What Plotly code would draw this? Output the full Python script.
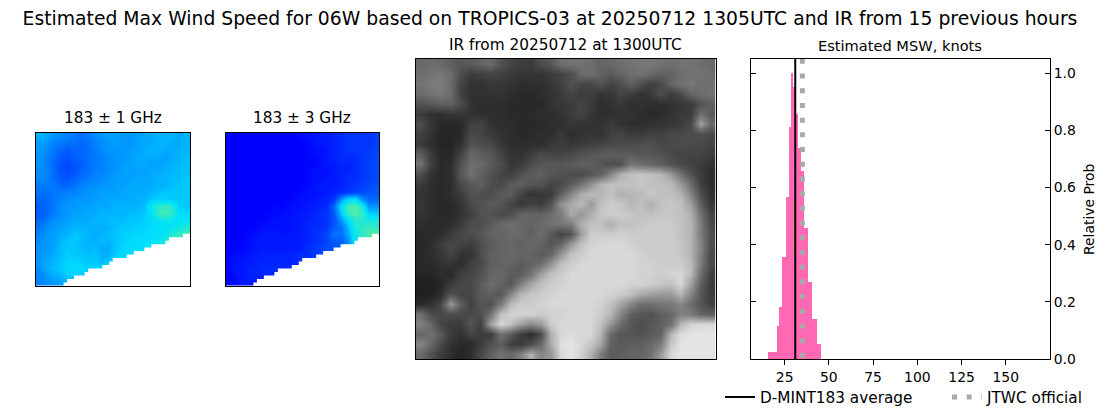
import plotly.graph_objects as go

FONT = "DejaVu Sans"
W, H = 1100, 409

main_title = "Estimated Max Wind Speed for 06W based on TROPICS-03 at 20250712 1305UTC and IR from 15 previous hours"
panel_titles = ["183 ± 1 GHz", "183 ± 3 GHz", "IR from 20250712 at 1300UTC", "Estimated MSW, knots"]

# brightness temps scaled x100 for the jet colormap on a coarse grid
mw_1ghz = [
    [31,30,28,27,26,25,24,25,27,28,29,29,28,28,29,30,30,31,31,31,30,31],
    [29,28,26,25,24,24,23,24,26,27,28,29,28,28,29,30,30,31,31,30,30,31],
    [28,27,25,23,22,23,23,24,25,27,28,28,28,29,29,30,31,31,30,30,31,31],
    [28,26,24,22,21,22,23,24,25,26,27,28,28,29,30,30,30,30,29,30,31,32],
    [28,26,23,21,20,21,22,24,25,26,27,28,29,29,30,30,29,29,30,31,32,32],
    [27,26,24,21,20,21,23,24,26,26,27,28,29,29,29,29,30,30,31,31,32,32],
    [27,26,24,22,21,23,24,25,26,27,28,29,29,29,30,30,30,31,31,32,32,33],
    [25,25,25,23,23,24,26,27,27,28,28,29,29,30,30,30,30,31,31,32,33,33],
    [24,24,25,25,26,26,27,28,28,29,29,29,30,30,30,30,31,32,33,33,33,33],
    [23,23,25,26,27,28,28,28,29,29,30,30,30,30,31,31,33,34,34,33,33,33],
    [22,23,25,27,28,28,29,29,30,30,30,31,31,31,31,32,38,42,44,41,34,33],
    [22,23,25,27,28,29,29,30,30,31,31,31,31,32,32,33,37,43,45,42,36,35],
    [23,25,27,28,29,30,30,30,31,31,32,32,32,33,33,34,35,38,39,38,37,37],
    [25,27,28,29,30,31,31,31,31,30,31,32,33,33,34,34,35,36,37,38,39,41],
    [26,28,29,30,31,33,32,31,30,31,32,33,34,34,35,35,36,37,38,41,43,45],
    [27,28,29,31,33,33,32,31,31,32,31,33,34,35,35,36,37,38,40,42,44,46],
    [28,28,29,32,33,33,32,31,32,30,30,33,35,35,36,37,38,40,42,44,46,46],
    [28,29,30,32,34,33,33,32,33,30,31,34,35,36,37,38,41,43,44,44,44,44],
    [28,30,31,33,34,35,34,33,33,32,33,35,36,38,39,41,43,44,44,44,44,44],
    [27,30,32,33,35,35,35,34,35,35,36,37,38,38,38,38,38,38,38,38,38,38],
    [26,28,30,31,33,34,33,33,33,33,33,33,33,33,33,33,33,33,33,33,33,33],
    [26,27,28,29,30,30,30,30,30,30,30,30,30,30,30,30,30,30,30,30,30,30],
]
mw_3ghz = [
    [13,12,11,11,11,11,11,11,11,12,13,14,14,15,15,16,17,18,18,18,18,19],
    [12,11,11,11,11,11,11,11,11,11,12,13,14,15,15,16,17,18,18,18,18,19],
    [12,11,11,11,11,11,11,11,11,11,12,13,14,14,15,16,17,18,18,18,19,19],
    [11,11,11,11,11,11,11,11,11,11,12,13,13,14,15,16,17,17,17,18,19,20],
    [11,11,11,11,11,11,11,11,11,11,12,13,13,14,15,15,16,16,17,18,19,20],
    [11,11,11,11,11,11,11,11,11,11,12,13,14,14,14,15,16,16,17,18,19,20],
    [11,11,11,11,11,11,11,11,11,11,12,13,14,14,15,15,16,17,17,18,19,20],
    [11,11,11,11,11,11,11,11,11,12,13,13,14,15,15,15,16,17,18,19,20,21],
    [11,11,11,11,11,11,11,11,12,13,13,14,14,15,15,16,17,18,19,20,21,22],
    [11,11,11,11,11,12,12,12,13,13,14,14,15,15,16,18,28,35,37,27,23,23],
    [11,11,11,11,12,12,13,13,13,14,14,15,15,16,17,24,36,45,46,40,27,28],
    [11,11,11,12,12,13,13,13,14,14,15,15,16,17,18,22,33,44,46,44,34,33],
    [11,11,12,12,13,13,14,14,14,15,15,16,16,17,18,21,28,36,42,41,40,40],
    [11,11,12,13,13,14,14,14,14,14,15,16,17,17,18,22,24,32,41,42,44,42],
    [12,12,13,13,14,15,15,15,14,15,15,16,17,18,20,25,24,30,39,42,46,47],
    [12,13,13,14,15,15,15,15,15,15,15,16,17,18,20,22,22,27,38,44,46,49],
    [12,13,13,14,15,15,15,15,15,15,15,17,18,19,20,21,22,28,37,43,46,48],
    [13,14,14,15,15,16,16,16,16,16,17,17,18,19,21,23,28,38,43,44,44,44],
    [13,14,15,15,16,16,16,16,16,16,17,18,20,22,25,32,38,42,44,44,44,44],
    [13,15,15,16,16,17,17,17,17,18,18,19,21,24,28,30,30,30,30,30,30,30],
    [12,14,15,16,16,16,16,16,16,16,16,16,16,16,16,16,16,16,16,16,16,16],
    [13,14,15,15,15,15,15,15,15,15,15,15,15,15,15,15,15,15,15,15,15,15],
]
# stair edge of the swath, in microwave pixels (44 x 44)
swath_edge_x = [8,9,11,13,14,15,17,19,21,22,24,26,28,30,31,33,35,37,38,40,42,44]
swath_edge_y = [43,42,41,41,40,39,39,38,37,36,36,35,34,34,33,32,32,31,30,30,29,29]

ir_gray = [
    [120,125,120,110,100,105,115,120,95,80,75,70,90,100,125,130,130,125,115,120,125,130,135,135,130,125,130,130,125,120],
    [125,130,135,125,90,70,75,80,75,70,60,65,60,70,80,90,120,125,115,105,115,125,130,120,110,115,125,130,130,125],
    [130,140,140,120,80,60,60,65,65,60,55,55,55,65,75,95,85,80,95,80,90,110,90,75,85,115,130,135,125,130],
    [120,130,135,125,75,58,60,60,60,55,50,50,55,60,70,80,70,75,60,65,80,70,60,70,90,70,85,115,125,130],
    [95,100,110,110,90,60,55,55,55,50,50,50,50,60,65,70,80,70,55,60,65,55,60,55,55,60,65,70,95,110],
    [70,60,55,65,65,60,55,55,55,50,50,50,55,55,60,70,80,65,55,55,60,60,55,50,55,60,70,70,130,105],
    [90,65,50,45,50,75,80,60,55,55,50,50,50,55,55,65,60,60,60,70,60,55,55,60,60,65,70,85,175,120],
    [75,60,45,45,50,85,80,70,60,55,50,50,55,55,70,55,60,65,60,75,80,70,70,75,75,85,85,90,90,85],
    [70,55,45,45,60,95,90,85,65,55,55,55,55,65,70,65,70,75,80,85,85,90,90,95,85,85,90,85,85,80],
    [110,70,50,50,80,120,110,100,80,60,60,70,85,80,80,85,95,100,105,110,105,105,100,100,95,85,80,80,80,70],
    [130,75,50,55,95,125,120,105,90,65,70,90,100,100,100,105,110,110,100,90,95,135,125,120,110,95,85,75,70,60],
    [90,60,50,55,100,130,110,95,80,75,95,105,110,100,95,90,85,100,110,150,190,205,210,205,195,170,130,95,70,55],
    [70,55,50,55,85,100,110,90,85,105,110,100,95,80,85,105,130,160,195,205,205,205,210,205,205,200,170,125,75,55],
    [60,55,50,55,70,95,90,90,105,105,80,60,65,70,110,150,185,200,195,205,190,195,200,210,205,205,195,150,90,60],
    [65,55,50,50,60,85,95,105,100,80,65,80,70,95,160,185,200,170,205,215,210,195,205,190,205,210,205,175,110,65],
    [60,55,50,50,60,75,95,95,85,90,115,115,115,125,140,185,165,190,210,215,215,210,205,205,210,210,205,190,130,80],
    [55,50,50,55,70,90,90,105,120,125,120,115,120,130,135,140,190,205,205,190,205,205,210,215,215,215,205,195,140,85],
    [50,50,55,70,85,90,100,115,115,120,120,110,125,100,80,95,170,215,215,215,220,215,215,215,215,215,205,195,140,90],
    [50,55,70,85,80,70,90,105,115,120,110,120,115,100,115,170,205,220,225,225,225,220,215,215,215,215,210,195,150,90],
    [50,55,65,80,60,60,90,110,115,120,115,115,105,115,165,205,215,225,225,225,225,225,220,215,215,215,210,195,145,85],
    [50,50,60,60,55,75,85,110,115,115,105,115,125,165,205,215,225,225,225,225,225,225,220,220,215,215,215,200,140,85],
    [45,45,55,50,75,80,95,115,120,105,105,130,175,205,215,225,225,225,225,225,225,225,220,220,215,220,225,200,125,75],
    [40,40,45,70,85,85,105,125,115,100,145,180,205,215,220,225,225,225,225,225,225,220,220,215,210,205,225,175,110,70],
    [40,40,55,95,80,80,105,110,100,150,195,210,215,220,225,225,225,225,225,220,215,205,185,175,170,170,195,150,100,70],
    [50,60,80,170,110,75,100,95,140,200,215,215,220,225,225,225,225,225,220,205,180,150,125,125,135,135,150,125,100,75],
    [130,90,85,90,85,85,90,130,205,220,220,220,215,220,220,225,225,225,215,195,150,110,100,95,110,120,145,140,115,110],
    [145,120,80,70,70,100,75,180,225,205,175,155,170,215,225,225,225,225,205,165,125,100,90,100,110,125,195,220,225,225],
    [115,130,105,70,60,80,70,70,130,105,70,55,85,190,225,230,225,225,195,120,100,100,95,105,115,195,230,235,235,235],
    [150,120,85,60,50,50,70,95,110,75,70,90,120,185,230,235,225,210,180,110,105,110,110,120,140,210,235,235,235,235],
    [120,95,70,55,45,55,85,110,130,120,145,190,150,165,225,235,220,190,140,105,110,115,115,130,170,225,235,235,235,235],
]

# histogram of estimated MSW
bin_edges = [15.4,20.5,21.6,23.3,25.2,27.3,28.4,29.7,30.7,32,34,35.8,38,40.3,43.1,45.4]
bin_probs = [0.025,0.117,0.183,0.357,0.567,0.812,1.0,0.953,0.858,0.74,0.658,0.458,0.27,0.14,0.054]
dmint_avg = 31
jtwc_official = 35

x_ticks = [25,50,75,100,125,150]
y_ticks = [0,0.2,0.4,0.6,0.8,1.0]

jet = [[0,"#00007f"],[0.11,"#0000ff"],[0.125,"#0000ff"],[0.35,"#00dbff"],[0.375,"#00e4f7"],
       [0.64,"#f7ff00"],[0.66,"#ffea00"],[0.89,"#ff1300"],[1,"#7f0000"]]


def dom_x(a, b):
    return [a / W, b / W]


def dom_y(top, bottom):
    return [1 - bottom / H, 1 - top / H]


def image_axis(dom, rng, anchor):
    return dict(domain=dom, range=rng, anchor=anchor, showticklabels=False, ticks="", showgrid=False, zeroline=False,
                showline=True, mirror=True, linecolor="black", linewidth=1)


fig = go.Figure()

for n, grid in enumerate([mw_1ghz, mw_3ghz]):
    ax = "" if n == 0 else str(n + 1)
    fig.add_trace(go.Heatmap(z=[[v / 100 for v in row] for row in grid], x0=1, dx=2, y0=1, dy=2,
                             colorscale=jet, zmin=0, zmax=1, showscale=False, zsmooth="best",
                             xaxis="x" + ax, yaxis="y" + ax))
    fig.add_trace(go.Scatter(x=swath_edge_x + [44, swath_edge_x[0]], y=swath_edge_y + [44, 44],
                             mode="lines", line=dict(width=0, shape="hv", color="white"),
                             fill="toself", fillcolor="white", showlegend=False, hoverinfo="skip",
                             xaxis="x" + ax, yaxis="y" + ax))

fig.add_trace(go.Heatmap(z=ir_gray, x0=0.5, dx=1, y0=0.5, dy=1, colorscale="gray", zmin=0, zmax=255,
                         showscale=False, zsmooth="best", xaxis="x3", yaxis="y3"))

fig.add_trace(go.Bar(x=[(a + b) / 2 for a, b in zip(bin_edges[:-1], bin_edges[1:])], y=bin_probs,
                     width=[b - a for a, b in zip(bin_edges[:-1], bin_edges[1:])],
                     marker=dict(color="hotpink", line=dict(width=0)), showlegend=False,
                     xaxis="x4", yaxis="y4"))
fig.add_trace(go.Scatter(x=[dmint_avg, dmint_avg], y=[0, 1.05], mode="lines", name="D-MINT183 average",
                         line=dict(color="black", width=2), xaxis="x4", yaxis="y4"))
fig.add_trace(go.Scatter(x=[jtwc_official, jtwc_official], y=[0.004, 1.05], mode="lines", name="JTWC official",
                         line=dict(color="darkgray", width=5, dash="5px,9.7px"), xaxis="x4", yaxis="y4"))

fig.update_layout(
    width=W, height=H, margin=dict(l=0, r=0, t=0, b=0, autoexpand=False), paper_bgcolor="white", plot_bgcolor="white",
    font=dict(family=FONT, color="black", size=14),
    xaxis=image_axis(dom_x(35.5, 190), [0, 44], "y"),
    yaxis=image_axis(dom_y(132.5, 286), [44, 0], "x"),
    xaxis2=image_axis(dom_x(225.5, 379), [0, 44], "y2"),
    yaxis2=image_axis(dom_y(132.5, 286), [44, 0], "x2"),
    xaxis3=image_axis(dom_x(415.5, 715.5), [0, 30], "y3"),
    yaxis3=image_axis(dom_y(59, 359), [30, 0], "x3"),
    xaxis4=dict(domain=dom_x(750.5, 1050), range=[5.7, 175], tickvals=x_ticks, ticks="outside", ticklen=5,
                tickcolor="black", showgrid=False, zeroline=False, showline=True, mirror=True, anchor="y4",
                linecolor="black", linewidth=1, tickfont=dict(size=13.9)),
    yaxis4=dict(domain=dom_y(59, 359), range=[0, 1.05], tickvals=y_ticks, tickformat=".1f", side="right",
                ticks="inside", ticklen=5, tickcolor="black", showgrid=False, zeroline=False, showline=True,
                mirror="allticks", linecolor="black", linewidth=1, tickfont=dict(size=13.9), anchor="x4"),
    legend=dict(orientation="h", xanchor="left", x=720 / W, yanchor="middle", y=1 - 397 / H,
                itemwidth=30, font=dict(size=15.3), bgcolor="rgba(0,0,0,0)", entrywidth=182, entrywidthmode="pixels"),
    title=dict(text=main_title, x=0.5, xanchor="center", y=1 - 18 / H, yanchor="middle", font=dict(size=18.77)),
    bargap=0,
)

title_spots = [(112.7, 118, 15.3), (302.3, 118, 15.3), (565.5, 45, 15.3), (900, 45, 14.6)]
for text, (x, y, size) in zip(panel_titles, title_spots):
    fig.add_annotation(text=text, x=x / W, y=1 - y / H, xref="paper", yref="paper", showarrow=False,
                       xanchor="center", yanchor="middle", font=dict(size=size))
fig.add_annotation(text="Relative Prob", x=1089 / W, y=1 - 210 / H, xref="paper", yref="paper", showarrow=False,
                   textangle=-90, xanchor="center", yanchor="middle", font=dict(size=13.9))

# page body has a default margin that would shift everything
fig.write_html("out.html", post_script="document.body.style.margin='0';", config=dict(displayModeBar=False))
